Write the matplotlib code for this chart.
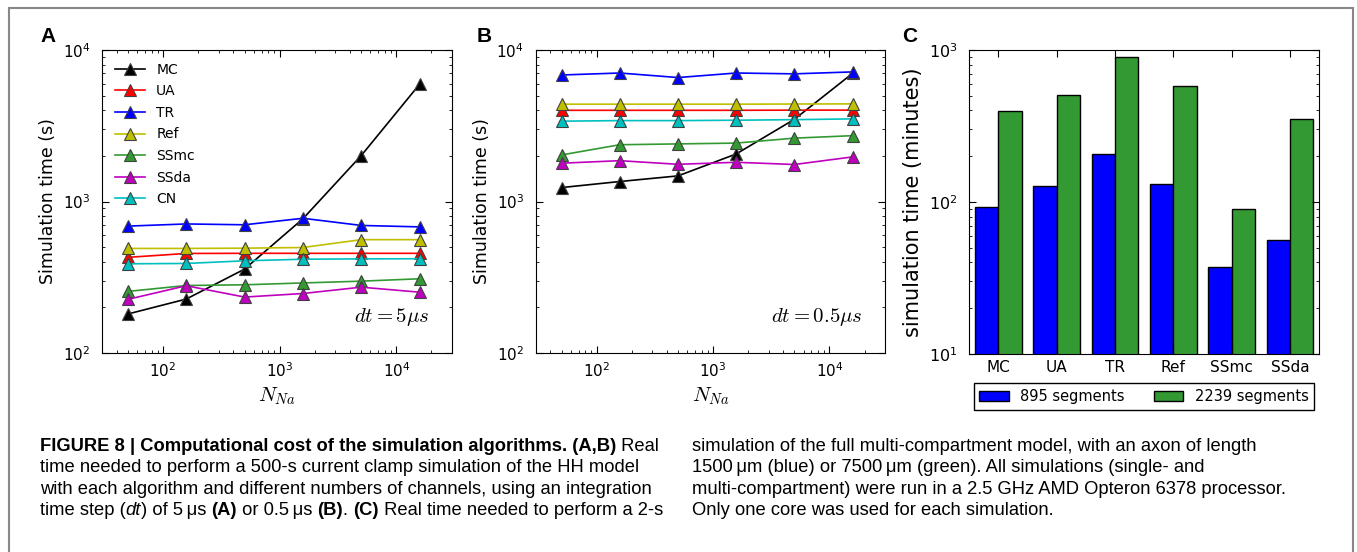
import matplotlib
matplotlib.use('Agg')
import matplotlib.pyplot as plt
from matplotlib import font_manager
from matplotlib.patches import Rectangle

plt.rcParams['font.family'] = ['DejaVu Sans']
plt.rcParams['mathtext.fontset'] = 'cm'

# number of Na channels (x axis of A and B)
n_na = [50, 158, 500, 1581, 5000, 15811]
algos = ['MC', 'UA', 'TR', 'Ref', 'SSmc', 'SSda', 'CN']
algo_colors = ['k', 'r', 'b', '#bfbf00', '#339933', '#bf00bf', '#00bfbf']

# panel A, dt = 5 us (seconds)
a_mc = [181, 227, 358, 769, 2010, 5940]
a_ua = [428, 454, 455, 455, 455, 455]
a_tr = [688, 711, 702, 775, 695, 680]
a_ref = [490, 490, 492, 497, 560, 560]
a_ssmc = [255, 279, 282, 290, 298, 309]
a_ssda = [226, 278, 234, 247, 272, 252]
a_cn = [388, 390, 406, 416, 418, 419]

# panel B, dt = 0.5 us (seconds)
b_mc = [1236, 1355, 1476, 2060, 3490, 7020]
b_ua = [4000, 4000, 4000, 4000, 4010, 4010]
b_tr = [6840, 7050, 6580, 7050, 6960, 7170]
b_ref = [4390, 4390, 4390, 4390, 4400, 4410]
b_ssmc = [2030, 2370, 2400, 2430, 2620, 2720]
b_ssda = [1790, 1860, 1760, 1815, 1755, 1970]
b_cn = [3390, 3420, 3420, 3440, 3470, 3510]

# panel C, multi-compartment (minutes)
c_algos = ['MC', 'UA', 'TR', 'Ref', 'SSmc', 'SSda']
c_895 = [93, 127, 207, 132, 37.6, 56.5]
c_2239 = [399, 506, 900, 577, 90.4, 353]
c_labels = ['895 segments', '2239 segments']


def style_axes(ax):
    ax.tick_params(which='both', direction='in', top=True, right=True, labelsize=11)
    ax.tick_params(which='major', length=5)
    ax.tick_params(which='minor', length=2.5)
    ax.tick_params(axis='y', pad=8.5)
    ax.tick_params(axis='x', pad=6)


def line_panel(ax, series, dt_text, legend=False):
    for name, vals, col in zip(algos, series, algo_colors):
        ax.plot(n_na, vals, '-^', color=col, lw=1.2, ms=8, mec='0.25', mew=0.8, label=name)
    ax.set_xscale('log')
    ax.set_yscale('log')
    ax.set_xlim(30, 30000)
    ax.set_ylim(100, 10000)
    ax.set_xlabel(r'$N_{Na}$', fontsize=15, labelpad=4)
    ax.set_ylabel('Simulation time (s)', fontsize=12.5)
    ax.text(0.937, 0.12, dt_text, transform=ax.transAxes, ha='right', va='center', fontsize=15)
    style_axes(ax)
    if legend:
        ax.legend(loc='upper left', frameon=False, fontsize=10, labelspacing=0.55,
                  handlelength=2.2, handletextpad=0.8)


fig = plt.figure(figsize=(13.57, 5.52), dpi=100)
ax_a = fig.add_axes([0.0752, 0.3605, 0.2579, 0.5489])
ax_b = fig.add_axes([0.3948, 0.3605, 0.2574, 0.5489])
ax_c = fig.add_axes([0.7141, 0.3587, 0.2579, 0.5507])

line_panel(ax_a, [a_mc, a_ua, a_tr, a_ref, a_ssmc, a_ssda, a_cn], r'$dt=5\mu s$', legend=True)
line_panel(ax_b, [b_mc, b_ua, b_tr, b_ref, b_ssmc, b_ssda, b_cn], r'$dt=0.5\mu s$')

# bar chart
pos = list(range(len(c_algos)))
w = 0.4
ax_c.bar([p - w / 2 for p in pos], c_895, w, color='b', edgecolor='k', lw=1, label=c_labels[0])
ax_c.bar([p + w / 2 for p in pos], c_2239, w, color='#339933', edgecolor='k', lw=1, label=c_labels[1])
ax_c.set_yscale('log')
ax_c.set_ylim(10, 1000)
ax_c.set_xlim(-0.5, len(c_algos) - 0.5)
ax_c.set_xticks(pos)
ax_c.set_xticklabels(c_algos, fontsize=12.5)
ax_c.set_ylabel('simulation time (minutes)', fontsize=15)
style_axes(ax_c)
ax_c.tick_params(axis='y', labelsize=11.5)
ax_c.tick_params(axis='x', pad=4)
ax_c.tick_params(axis='x', which='minor', top=False, bottom=False)
leg = ax_c.legend(loc='upper center', bbox_to_anchor=(0.5, -0.095), ncol=2, fontsize=10.5,
                  fancybox=False, framealpha=1, edgecolor='k', borderaxespad=0)
leg.get_frame().set_linewidth(1)

# panel letters
for lx, lab in [(40, 'A'), (477, 'B'), (902, 'C')]:
    fig.text(lx / 1357, 1 - 36 / 552, lab, fontsize=15, fontweight='bold',
             family=['Liberation Sans', 'DejaVu Sans'], va='center', ha='left')

# frame around the figure
fig.add_artist(Rectangle((9 / 1357, -0.05), 1344 / 1357, 1.05 - 8 / 552, transform=fig.transFigure,
                         fill=False, edgecolor='#888888', lw=1.5))

# caption
installed = {f.name for f in font_manager.fontManager.ttflist}
if 'Liberation Sans Narrow' in installed:
    cap_family, cap_size = 'Liberation Sans Narrow', 14
else:
    cap_family, cap_size = 'Liberation Sans', 13.2

left_lines = [
    [("FIGURE 8 | Computational cost of the simulation algorithms. (A,B)", 'bold', 'normal'),
     (" Real", 'normal', 'normal')],
    [("time needed to perform a 500-s current clamp simulation of the HH model", 'normal', 'normal')],
    [("with each algorithm and different numbers of channels, using an integration", 'normal', 'normal')],
    [("time step (", 'normal', 'normal'), ("dt", 'normal', 'italic'),
     (") of 5\u2009\u03bcs ", 'normal', 'normal'), ("(A)", 'bold', 'normal'),
     (" or 0.5\u2009\u03bcs ", 'normal', 'normal'), ("(B)", 'bold', 'normal'),
     (". ", 'normal', 'normal'), ("(C)", 'bold', 'normal'),
     (" Real time needed to perform a 2-s", 'normal', 'normal')],
]
right_lines = [
    [("simulation of the full multi-compartment model, with an axon of length", 'normal', 'normal')],
    [("1500\u2009\u03bcm (blue) or 7500\u2009\u03bcm (green). All simulations (single- and", 'normal', 'normal')],
    [("multi-compartment) were run in a 2.5 GHz AMD Opteron 6378 processor.", 'normal', 'normal')],
    [("Only one core was used for each simulation.", 'normal', 'normal')],
]
baselines = [451, 472, 494, 515]

renderer = fig.canvas.get_renderer()


def rich_line(x0, ybase, pieces):
    x = x0
    for txt, weight, style in pieces:
        t = fig.text(x / 1357, 1 - ybase / 552, txt, fontsize=cap_size, fontweight=weight,
                     fontstyle=style, family=[cap_family, 'DejaVu Sans'], va='baseline', ha='left')
        bb = t.get_window_extent(renderer)
        x += bb.width


for yb, pieces in zip(baselines, left_lines):
    rich_line(40, yb, pieces)
for yb, pieces in zip(baselines, right_lines):
    rich_line(692, yb, pieces)

fig.savefig('out.png', dpi=100)
